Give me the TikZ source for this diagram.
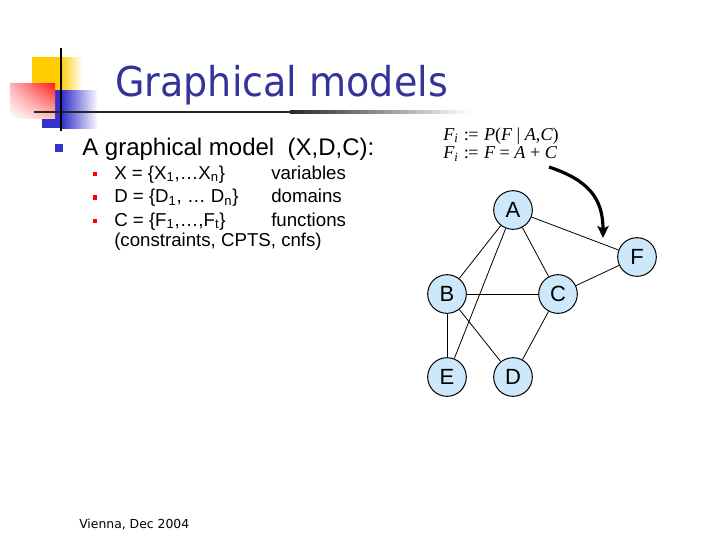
\documentclass[tikz,border=0pt]{standalone}
\usepackage{fontspec}
\setmainfont{Liberation Sans}
\newfontfamily\titlefont{DejaVu Sans}
\newfontfamily\serifmath{Liberation Serif}
\usetikzlibrary{arrows.meta,shadings}
\definecolor{titleblue}{RGB}{51,51,153}
\definecolor{bulletblue}{RGB}{51,51,204}
\definecolor{nodefill}{RGB}{204,232,250}
\definecolor{logoyellow}{RGB}{255,204,0}
\definecolor{logoblue}{RGB}{51,51,204}
\newcommand{\mv}[1]{{\serifmath\itshape #1}}
\newcommand{\defeq}{\hspace{0.3em}{\serifmath :\kern-0.5pt=}\hspace{0.3em}}
\newcommand{\sprel}[1]{\hspace{0.25em}#1\hspace{0.25em}}
\begin{document}
\begin{tikzpicture}[x=0.75pt,y=-0.75pt,
  gnode/.style={circle,draw=black,line width=0.75pt,fill=nodefill,minimum size=29pt,inner sep=0pt,font=\fontsize{16.5}{18}\selectfont},
  edge/.style={draw=black,line width=0.6pt},
  subitem/.style={anchor=base west,inner sep=0pt,font=\fontsize{14}{16}\selectfont},
  redbullet/.style={fill=red,minimum size=3.6pt,inner sep=0pt},
  formula/.style={anchor=base west,inner sep=0pt,font=\fontsize{13.6}{15}\selectfont\serifmath}]
\useasboundingbox (0,0) rectangle (720,540);
\fill[white] (0,0) rectangle (720,540);
% logo
\fill[logoyellow] (32,57) rectangle (60,105);
\shade[left color=logoyellow,right color=white] (60,57) rectangle (82,105);
\fill[logoblue] (42,90) rectangle (62,128);
\shade[left color=logoblue,right color=white] (62,90) rectangle (98,128);
\shade[upper left=red!30,upper right=red!90,lower left=white,lower right=red!25] (10,83) rectangle (55,118);
% rule lines
\fill[black!85] (34,110.8) rectangle (290,113.2);
\shade[left color=black!85,right color=white] (290,110.8) rectangle (470,113.2);
\draw[black,line width=1.3pt] (61,48) -- (61,131);
% title
\node[anchor=base west,inner sep=0pt,text=titleblue,font=\fontsize{30.8}{34}\selectfont\titlefont] (title) at (115,96) {\scalebox{0.927}[1]{Graphical models}};
% main bullet
\node[fill=bulletblue,minimum size=5.5pt,inner sep=0pt] (b0) at (59,148) {};
\node[anchor=base west,inner sep=0pt,font=\fontsize{18}{20}\selectfont] (t0) at (82,155) {A graphical model\ \ (X,D,C):};
% sub-bullets
\node[redbullet] (b1) at (95,174) {};
\node[redbullet] (b2) at (95,197.5) {};
\node[redbullet] (b3) at (95,221) {};
\node[subitem] (t1) at (114,179) {X = \{X\textsubscript{1},…X\textsubscript{n}\}};
\node[subitem] (t2) at (114,202.5) {D = \{D\textsubscript{1}, … D\textsubscript{n}\}};
\node[subitem] (t3) at (114,226) {C = \{F\textsubscript{1},…,F\textsubscript{t}\}};
\node[subitem] (t4) at (114,246) {(constraints, CPTS, cnfs)};
\node[subitem] (v1) at (271,179) {variables};
\node[subitem] (v2) at (271,202.5) {domains};
\node[subitem] (v3) at (271,226) {functions};
% formulas
\node[formula] (f1) at (443,140) {\mv{F}\textsubscript{\mv{i}}\defeq\mv{P}(\mv{F}\sprel{|}\mv{A},\mv{C})};
\node[formula] (f2) at (443,158.5) {\mv{F}\textsubscript{\mv{i}}\defeq\mv{F}\sprel{=}\mv{A}\sprel{+}\mv{C}};
% graph
\node[gnode] (A) at (513,210) {A};
\node[gnode] (F) at (637,257) {F};
\node[gnode] (B) at (447,294) {B};
\node[gnode] (C) at (558,294) {C};
\node[gnode] (E) at (447,377) {E};
\node[gnode] (D) at (513,377) {D};
\draw[edge] (A) -- (B);
\draw[edge] (A) -- (E);
\draw[edge] (A) -- (C);
\draw[edge] (A) -- (F);
\draw[edge] (F) -- (C);
\draw[edge] (B) -- (C);
\draw[edge] (B) -- (E);
\draw[edge] (B) -- (D);
\draw[edge] (C) -- (D);
% arrow
\coordinate (arrS) at (549,167);
\coordinate (arrE) at (603,238);
\draw[line width=2.4pt,-{Stealth[length=9pt,width=8.5pt,inset=2pt]}] (arrS) .. controls (588,180) and (603,198) .. (arrE);
% footer
\node[anchor=base west,inner sep=0pt,font=\fontsize{9.3}{11}\selectfont\titlefont] (foot) at (79,528) {Vienna, Dec 2004};
\end{tikzpicture}
\end{document}
